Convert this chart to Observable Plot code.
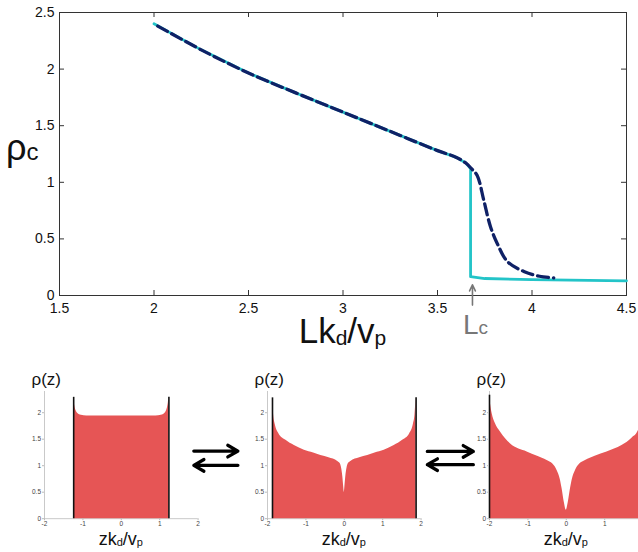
<!DOCTYPE html>
<html><head><meta charset="utf-8">
<script src="https://cdn.jsdelivr.net/npm/d3@7"></script>
<script src="https://cdn.jsdelivr.net/npm/@observablehq/plot@0.6"></script>
<style>
body{margin:0;background:#fff;}
#wrap{position:relative;width:638px;height:552px;overflow:hidden;font-family:"Liberation Sans",Arial,sans-serif;}
#wrap svg{position:absolute;}
</style></head><body><div id="wrap"></div>
<script>
// ---------- top chart data ----------
const xTicks = [1.5, 2, 2.5, 3, 3.5, 4, 4.5];
const yTicks = [0, 0.5, 1, 1.5, 2, 2.5];
// solid cyan (discontinuous transition)
const cyanX = [2, 2.25, 2.5, 2.75, 3, 3.25, 3.5, 3.6, 3.65, 3.675, 3.675, 3.75, 4, 4.5];
const cyanY = [2.40, 2.17, 1.965, 1.79, 1.62, 1.45, 1.28, 1.22, 1.17, 1.12, 0.166, 0.15, 0.14, 0.13];
// dashed navy (smooth transition)
const dashX = [2.02, 2.25, 2.5, 2.75, 3, 3.25, 3.5, 3.6, 3.65, 3.68, 3.71, 3.745, 3.78, 3.816, 3.87, 3.96, 4.04, 4.115];
const dashY = [2.38, 2.17, 1.965, 1.79, 1.62, 1.45, 1.28, 1.22, 1.17, 1.12, 1.06, 0.84, 0.61, 0.46, 0.30, 0.21, 0.17, 0.155];
const Lc = 3.685;

// ---------- bottom panels data: rho(z) profiles ----------
const zTicks = [-2, -1, 0, 1, 2];
const zTicksCut = [-2, -1, 0, 1];
const rTicks = [0, 0.5, 1, 1.5, 2];
const z1 = [-1.24, -1.225, -1.21, -1.18, -1.15, -1.1, -1.04, -0.9, 0, 0.9, 1.04, 1.1, 1.15, 1.18, 1.21, 1.225, 1.24];
const r1 = [2.29, 2.19, 2.12, 2.04, 2.0, 1.965, 1.95, 1.94, 1.94, 1.94, 1.95, 1.965, 2.0, 2.04, 2.12, 2.19, 2.29];
const z2 = [-1.87, -1.84, -1.8, -1.7, -1.52, -1.3, -1.04, -0.8, -0.61, -0.4, -0.17, -0.1, -0.07, -0.04, -0.015, 0, 0.015, 0.04, 0.07, 0.1, 0.17, 0.4, 0.61, 0.8, 1.04, 1.3, 1.52, 1.7, 1.8, 1.84, 1.87];
const r2 = [2.28, 1.95, 1.78, 1.6, 1.48, 1.38, 1.29, 1.24, 1.19, 1.15, 1.08, 1.03, 0.95, 0.8, 0.6, 0.5, 0.6, 0.8, 0.95, 1.03, 1.08, 1.15, 1.19, 1.24, 1.29, 1.38, 1.48, 1.6, 1.78, 1.95, 2.28];
const z3 = [-2, -1.96, -1.93, -1.85, -1.71, -1.45, -1.02, -0.75, -0.5, -0.35, -0.24, -0.16, -0.11, -0.05, 0, 0.05, 0.11, 0.16, 0.24, 0.35, 0.5, 0.75, 1.06, 1.45, 1.71, 1.87, 1.95, 2];
const r3 = [2.33, 2.1, 1.98, 1.8, 1.63, 1.41, 1.26, 1.18, 1.10, 1.03, 0.91, 0.75, 0.57, 0.3, 0.16, 0.3, 0.57, 0.75, 0.91, 1.03, 1.10, 1.18, 1.26, 1.38, 1.52, 1.65, 1.9, 2.33];
// equilibrium arrows (in the z units of the panel to their right)
const arrowRightFrom = [-3.92, -3.62];
const arrowRightTo = [-2.77, -2.42];
const arrowYTop = [1.275, 1.27];
const arrowYBottom = [1.006, 1.02];

const wrap = document.getElementById("wrap");
const fmt = d => String(d);
const font = "Liberation Sans, Arial, sans-serif";

function addText(svg, x, y, parts, opts = {}) {
  const t = d3.select(svg).append("text")
    .attr("x", x).attr("y", y)
    .attr("text-anchor", opts.anchor || "start")
    .attr("fill", opts.fill || "#111")
    .style("font-family", font);
  let shift = 0;
  for (const [s, size, sub] of parts) {
    const target = sub ? sub : 0;
    t.append("tspan").attr("font-size", size).attr("dy", target - shift).text(s);
    shift = target;
  }
  return t;
}

// ---------- top chart ----------
const W = 638, H = 352, mL = 59, mR = 12, mT = 12, mB = 57;
const innerW = W - mL - mR, innerH = H - mT - mB;
const cyan = cyanX.map((x, i) => ({x, y: cyanY[i]}));
const dash = dashX.map((x, i) => ({x, y: dashY[i]}));
const topChart = Plot.plot({
  width: W, height: H, marginLeft: mL, marginRight: mR, marginTop: mT, marginBottom: mB,
  style: {background: "transparent", fontFamily: font, overflow: "visible", maxWidth: "none"},
  x: {domain: [1.5, 4.5], label: null},
  y: {domain: [0, 2.5], label: null},
  marks: [
    Plot.frame({stroke: "#333", strokeWidth: 1}),
    Plot.tickX(xTicks, {x: d => d, insetTop: innerH - 5, stroke: "#333"}),
    Plot.tickX(xTicks, {x: d => d, insetBottom: innerH - 5, stroke: "#333"}),
    Plot.tickY(yTicks, {y: d => d, insetRight: innerW - 5, stroke: "#333"}),
    Plot.tickY(yTicks, {y: d => d, insetLeft: innerW - 5, stroke: "#333"}),
    Plot.axisX(xTicks, {tickSize: 0, tickPadding: 8, tickFormat: fmt, fontSize: 14, fill: "#111", label: null}),
    Plot.axisY(yTicks, {tickSize: 0, tickPadding: 5, tickFormat: fmt, fontSize: 14, fill: "#111", label: null}),
    Plot.line(cyan, {x: "x", y: "y", stroke: "#23c4c8", strokeWidth: 2.8}),
    Plot.line(dash, {x: "x", y: "y", stroke: "#0f2166", strokeWidth: 3.3, strokeDasharray: "11,5", curve: "catmull-rom"}),
    Plot.arrow([Lc], {x1: d => d, x2: d => d, y1: -0.085, y2: 0.095, stroke: "#777", strokeWidth: 1.6, headLength: 9, headAngle: 50, clip: false})
  ]
});
topChart.style.left = "0px"; topChart.style.top = "0px";
wrap.appendChild(topChart);
addText(topChart, 342.5, 343, [["L", 35], ["k", 35], ["d", 21, 2], ["/", 35], ["v", 35], ["p", 21, 2]], {anchor: "middle"});
addText(topChart, 6, 160, [["ρ", 36], ["c", 24, 0]]);
addText(topChart, 463, 334, [["L", 28], ["c", 19, 0]], {fill: "#777"});

// ---------- bottom panels ----------
const pmL = 80, pmR = 8, pmT = 30, pH = 191;
const pxUnit = 38.4, pyUnit = 53;
const pInnerW = 4 * pxUnit, pInnerH = 2.4 * pyUnit;
const pW = pmL + pInnerW + pmR;
const pmB = pH - pmT - pInnerH;

function panel(z, r, leftPx, arrowIdx, ticks) {
  const data = z.map((v, i) => ({z: v, rho: r[i]}));
  const edges = [data[0], data[data.length - 1]];
  const marks = [
    Plot.ruleY([0], {stroke: "#c9c9c9", strokeWidth: 1}),
    Plot.ruleX([-2], {stroke: "#c9c9c9", strokeWidth: 1}),
    Plot.areaY(data, {x: "z", y: "rho", fill: "#e65555", curve: "monotone-x"}),
    Plot.ruleX(edges, {x: "z", y1: 0, y2: "rho", stroke: "#111", strokeWidth: 1.6}),
    Plot.axisX(ticks, {tickSize: 2, tickPadding: 1, fontSize: 6.5, fill: "#444", stroke: "#bbb", tickFormat: fmt, label: null}),
    Plot.axisY(rTicks, {tickSize: 2, tickPadding: 1.5, fontSize: 6.5, fill: "#444", stroke: "#bbb", tickFormat: fmt, label: null})
  ];
  if (arrowIdx != null) {
    const i = arrowIdx;
    marks.push(Plot.arrow([
      {x1: arrowRightFrom[i], x2: arrowRightTo[i], y: arrowYTop[i]},
      {x1: arrowRightTo[i], x2: arrowRightFrom[i], y: arrowYBottom[i]}
    ], {x1: "x1", x2: "x2", y1: "y", y2: "y", stroke: "#000", strokeWidth: 3.2, headLength: 5.5, headAngle: 60, clip: false}));
  }
  const p = Plot.plot({
    width: pW, height: pH, marginLeft: pmL, marginRight: pmR, marginTop: pmT, marginBottom: pmB,
    style: {background: "transparent", fontFamily: font, overflow: "visible", maxWidth: "none"},
    x: {domain: [-2, 2], label: null},
    y: {domain: [0, 2.4], label: null},
    marks
  });
  p.style.left = (leftPx - pmL) + "px";
  p.style.top = (518.3 - pmT - pInnerH) + "px";
  wrap.appendChild(p);
  addText(p, pmL - 12.5, 24, [["ρ(z)", 17]]);
  addText(p, pmL + 2 * pxUnit, 184, [["z", 18], ["k", 18], ["d", 11, 1.5], ["/", 18], ["v", 18], ["p", 11, 1.5]], {anchor: "middle"});
  return p;
}
panel(z1, r1, 44.3, null, zTicks);
panel(z2, r2, 266.7, 0, zTicks);
panel(z3, r3, 489, 1, zTicksCut);
</script></body></html>
